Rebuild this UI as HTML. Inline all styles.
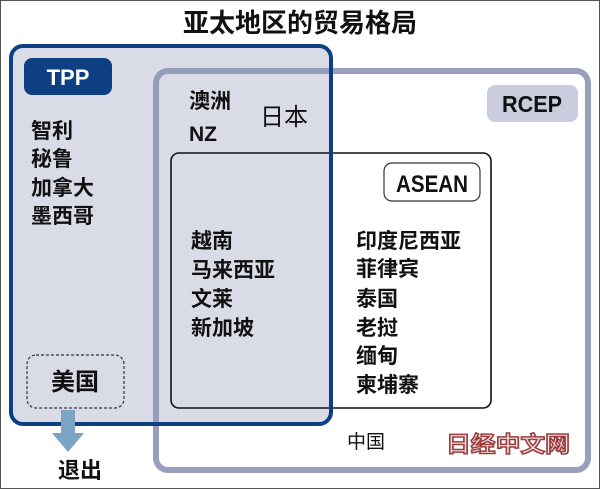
<!DOCTYPE html>
<html><head><meta charset="utf-8"><style>
html,body{margin:0;padding:0;background:#fff}
svg{display:block}
text{font-family:"Liberation Sans","Noto Sans CJK SC",sans-serif}
.c{font-size:21px;font-weight:bold;fill:#111}
</style></head><body>
<svg width="600" height="489" viewBox="0 0 600 489" xmlns="http://www.w3.org/2000/svg">
<rect x="0.5" y="0.5" width="599" height="488" fill="#fff" stroke="#555" stroke-width="1"/>
<text x="300" y="32" text-anchor="middle" font-size="26" font-weight="bold" fill="#111">亚太地区的贸易格局</text>
<rect x="11" y="46" width="320" height="378" rx="12" fill="#d9dbe6"/>
<rect x="156" y="71" width="432" height="399" rx="12" fill="none" stroke="#8d96b7" stroke-width="6" opacity="0.9"/>
<rect x="171" y="153" width="320" height="255" rx="8" fill="none" stroke="#111" stroke-width="1.6"/>
<rect x="11" y="46" width="320" height="378" rx="12" fill="none" stroke="#0d3f82" stroke-width="4"/>
<rect x="24" y="58" width="88" height="37" rx="8" fill="#0d3f82"/>
<text x="68" y="85" text-anchor="middle" font-size="22" font-weight="bold" fill="#fff">TPP</text>
<rect x="487" y="85" width="91" height="37" rx="8" fill="#c9cddd"/>
<text x="532" y="112" text-anchor="middle" font-size="23" font-weight="bold" fill="#111" textLength="60" lengthAdjust="spacingAndGlyphs">RCEP</text>
<rect x="384" y="163" width="96" height="38" rx="8" fill="#fff" stroke="#333" stroke-width="1.2"/>
<text x="432" y="192" text-anchor="middle" font-size="24" font-weight="bold" fill="#111" textLength="72" lengthAdjust="spacingAndGlyphs">ASEAN</text>
<text class="c" x="31" y="138">智利</text>
<text class="c" x="31" y="166">秘鲁</text>
<text class="c" x="31" y="195">加拿大</text>
<text class="c" x="31" y="223">墨西哥</text>
<text class="c" x="189" y="108">澳洲</text>
<text class="c" x="189" y="141">NZ</text>
<text x="260" y="125" font-size="24" fill="#111">日本</text>
<text class="c" x="191" y="248">越南</text>
<text class="c" x="191" y="277">马来西亚</text>
<text class="c" x="191" y="306">文莱</text>
<text class="c" x="191" y="335">新加坡</text>
<text class="c" x="356" y="248">印度尼西亚</text>
<text class="c" x="356" y="276">菲律宾</text>
<text class="c" x="356" y="306">泰国</text>
<text class="c" x="356" y="335">老挝</text>
<text class="c" x="356" y="363">缅甸</text>
<text class="c" x="356" y="392">柬埔寨</text>
<rect x="27" y="355" width="97" height="53" rx="9" fill="none" stroke="#333" stroke-width="1.2" stroke-dasharray="3,2"/>
<text x="75" y="390" text-anchor="middle" font-size="24" font-weight="bold" fill="#111">美国</text>
<polygon points="61,410 75,410 75,433 84,433 68,452 52,433 61,433" fill="#7aa3c4"/>
<text x="80" y="478" text-anchor="middle" font-size="22" font-weight="bold" fill="#111">退出</text>
<text x="366" y="448" text-anchor="middle" font-size="19" fill="#111">中国</text>
<text x="508" y="452" text-anchor="middle" font-size="22" font-weight="bold" fill="#f3e8e6" stroke="#9b3c3c" stroke-width="1.5" textLength="124" lengthAdjust="spacingAndGlyphs">日经中文网</text>
</svg>
</body></html>
